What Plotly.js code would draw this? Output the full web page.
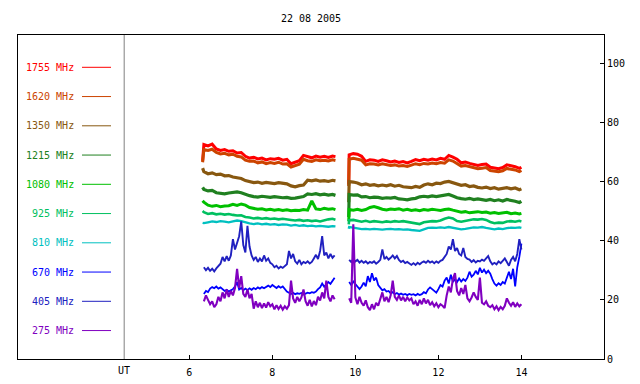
<!DOCTYPE html>
<html><head><meta charset="utf-8">
<script src="https://cdn.plot.ly/plotly-3.0.1.min.js"></script>
<style>html,body{margin:0;padding:0;background:#fff}#chart{width:640px;height:384px}</style>
</head><body><div id="chart"></div>
<script>
const chartTitle = "22 08 2005";
const axisLabel = "UT";
const xTicks = [6, 8, 10, 12, 14];
const yTicks = [0, 20, 40, 60, 80, 100];
const bands = ["1755 MHz","1620 MHz","1350 MHz","1215 MHz","1080 MHz","925 MHz","810 MHz","670 MHz","405 MHz","275 MHz"];
const colors = ["#ff0000","#cc4400","#885810","#208020","#00c000","#00c060","#00c0c0","#0000ff","#2020c0","#8000c0"];

// coarse time samples (UT hours)
const tA = [6.32,6.35,6.45,6.55,6.65,6.75,6.85,6.95,7.05,7.15,7.25,7.35,7.45,7.55,7.65,7.75,7.85,7.95,8.05,8.15,8.25,8.35,8.45,8.55,8.65,8.75,8.85,8.95,9.05,9.15,9.25,9.35,9.45,9.52];
const tB = [9.84,9.85,9.95,10.05,10.15,10.25,10.35,10.45,10.55,10.65,10.75,10.85,10.95,11.05,11.15,11.25,11.35,11.45,11.55,11.65,11.75,11.85,11.95,12.05,12.15,12.25,12.35,12.45,12.55,12.65,12.75,12.85,12.95,13.05,13.15,13.25,13.35,13.45,13.55,13.65,13.75,13.85,13.95,14.0];
// fine time samples for the noisy low bands
const fA = [6.35,6.40,6.45,6.50,6.55,6.60,6.65,6.70,6.75,6.80,6.85,6.90,6.95,7.00,7.05,7.10,7.15,7.20,7.25,7.30,7.35,7.40,7.45,7.50,7.55,7.60,7.65,7.70,7.75,7.80,7.85,7.90,7.95,8.00,8.05,8.10,8.15,8.20,8.25,8.30,8.35,8.40,8.45,8.50,8.55,8.60,8.65,8.70,8.75,8.80,8.85,8.90,8.95,9.00,9.05,9.10,9.15,9.20,9.25,9.30,9.35,9.40,9.45,9.50];
const fB = [9.85,9.90,9.95,10.00,10.05,10.10,10.15,10.20,10.25,10.30,10.35,10.40,10.45,10.50,10.55,10.60,10.65,10.70,10.75,10.80,10.85,10.90,10.95,11.00,11.05,11.10,11.15,11.20,11.25,11.30,11.35,11.40,11.45,11.50,11.55,11.60,11.65,11.70,11.75,11.80,11.85,11.90,11.95,12.00,12.05,12.10,12.15,12.20,12.25,12.30,12.35,12.40,12.45,12.50,12.55,12.60,12.65,12.70,12.75,12.80,12.85,12.90,12.95,13.00,13.05,13.10,13.15,13.20,13.25,13.30,13.35,13.40,13.45,13.50,13.55,13.60,13.65,13.70,13.75,13.80,13.85,13.90,13.95,14.00];
const gapT = 9.7;

const v1755A = [67.0,72.5,72.0,72.6,71.0,70.5,70.8,70.2,70.4,69.6,69.8,68.5,67.9,68.2,67.6,67.9,67.3,67.7,67.5,67.8,67.2,67.5,66.0,66.4,67.0,68.8,68.3,68.0,68.6,68.2,68.5,68.1,68.6,68.4];
const v1755B = [59.0,69.0,69.4,69.2,68.5,66.8,67.3,67.2,66.8,67.3,67.0,66.6,66.9,66.4,66.7,66.3,66.8,67.4,67.0,67.5,67.2,67.6,67.3,67.8,67.5,68.8,68.2,67.5,66.3,66.6,66.1,65.8,65.4,65.7,65.9,64.8,64.5,64.3,64.7,65.6,65.3,65.0,64.4,64.8];
const v1620A = [66.5,70.8,70.5,70.9,69.8,69.3,69.5,69.0,69.2,68.5,68.3,67.2,66.8,66.9,66.3,66.6,66.0,66.4,66.1,66.5,65.9,66.0,64.9,65.3,65.8,67.5,67.0,66.8,67.3,67.0,67.2,66.9,67.3,67.1];
const v1620B = [58.5,67.5,67.8,67.6,67.2,65.6,66.0,65.9,65.6,66.0,65.7,65.4,65.6,65.2,65.4,65.1,65.5,66.0,65.7,66.1,65.9,66.2,66.0,66.4,66.2,67.3,66.9,66.1,65.2,65.4,65.0,64.7,64.3,64.5,64.7,63.7,63.4,63.3,63.6,64.4,64.1,63.9,63.3,63.7];
const v1350A = [64.5,63.3,62.6,62.9,62.3,62.5,61.9,62.0,61.5,61.3,61.0,60.3,59.9,59.6,59.8,59.4,59.7,59.5,59.3,59.6,59.4,59.2,58.5,58.2,58.6,58.8,60.4,60.2,60.5,60.1,60.3,60.0,60.4,60.2];
const v1350B = [53.0,60.0,59.8,59.5,58.9,59.2,58.7,58.9,58.5,58.8,58.5,58.9,58.4,58.7,58.2,58.0,57.9,58.3,58.0,58.8,59.2,58.9,59.4,59.3,59.8,60.0,59.5,59.2,58.7,58.9,58.3,58.5,58.0,57.8,58.1,57.6,57.9,57.4,57.7,57.9,57.5,57.8,57.2,57.5];
const v1215A = [58.0,57.3,56.8,57.0,56.2,56.0,55.8,56.1,56.4,56.5,56.2,55.6,55.2,54.9,54.7,55.0,54.8,54.6,54.9,54.7,54.5,54.6,54.3,54.4,54.7,54.9,55.8,55.6,55.9,55.5,55.7,55.4,55.6,55.3];
const v1215B = [48.0,55.6,55.4,55.5,54.8,54.9,54.5,54.7,54.6,54.3,54.5,54.4,54.6,54.1,54.0,53.8,54.1,54.3,54.8,55.0,54.8,55.1,54.9,55.2,55.5,55.6,55.1,54.5,54.2,54.0,54.3,53.9,54.1,53.8,53.6,53.9,53.5,53.8,53.4,53.9,53.7,53.3,52.9,53.3];
const v1080A = [53.5,53.0,52.0,51.6,51.9,51.5,51.7,51.8,52.3,51.9,52.4,52.0,51.2,51.0,50.6,50.8,50.4,50.6,50.3,50.5,50.2,50.4,50.1,50.3,50.2,50.5,50.3,53.4,50.7,50.5,50.9,50.6,50.8,50.5];
const v1080B = [46.5,50.5,50.3,50.6,50.2,50.5,51.2,51.5,51.1,50.6,50.4,50.7,50.5,50.8,50.3,50.6,50.2,50.4,50.1,50.5,50.3,50.6,50.4,50.2,50.5,50.7,50.3,50.0,49.6,49.8,49.4,49.6,49.8,49.5,49.7,49.3,49.5,49.2,49.4,49.6,49.1,49.3,49.0,49.2];
const v925A = [50.0,49.6,49.0,49.3,48.9,49.1,48.8,49.0,48.7,48.5,48.6,48.0,47.8,47.5,47.7,47.4,47.6,47.3,47.5,47.2,47.4,47.1,47.0,46.8,47.0,46.7,46.9,46.6,46.8,46.5,46.9,47.2,47.4,47.1];
const v925B = [45.5,46.9,47.0,46.6,46.4,46.7,46.3,46.6,46.4,46.2,46.5,46.3,46.6,46.4,46.6,46.4,46.2,45.9,45.6,46.2,46.4,46.6,46.5,46.8,47.4,47.8,47.5,46.6,46.4,46.7,46.8,47.2,47.1,47.3,47.0,46.3,45.9,46.1,46.0,46.5,46.6,46.4,46.7,46.5];
const v810A = [46.0,45.9,46.2,46.5,46.3,46.6,46.4,46.2,46.5,46.8,46.6,46.1,45.8,45.6,45.8,45.5,45.7,45.4,45.6,45.3,45.5,45.4,45.1,45.3,45.0,45.2,44.9,45.1,44.8,45.0,44.9,44.7,44.9,44.8];
const v810B = [44.0,44.6,44.4,44.2,43.9,44.0,43.8,44.0,43.9,43.7,43.9,44.0,43.8,43.9,43.7,43.8,43.6,43.4,43.3,43.8,44.3,44.4,44.3,44.5,44.3,44.6,44.4,44.0,43.8,44.0,44.3,44.5,44.4,44.6,44.3,44.0,43.8,44.1,43.9,44.2,44.4,44.3,44.5,44.3];

const v670A = [22.0,23.0,22.6,23.8,24.3,23.9,24.5,23.8,24.2,23.6,23.0,23.4,22.8,23.2,23.6,24.5,26.0,23.5,24.0,23.2,23.8,23.3,23.9,23.4,24.0,23.6,24.2,23.8,24.3,23.9,24.4,24.8,24.3,25.0,24.5,24.0,24.6,24.1,24.5,23.5,22.8,22.4,22.0,22.4,21.9,22.2,22.0,22.3,21.8,22.1,22.4,22.2,22.6,22.4,22.8,23.6,24.2,25.5,24.4,25.2,26.0,25.4,26.5,27.5];
const v670B = [26.0,25.0,26.2,25.2,24.4,23.6,24.5,25.8,24.6,28.0,26.0,29.0,26.5,27.5,25.0,24.0,23.2,23.6,22.8,23.0,22.2,22.6,21.9,22.3,21.8,22.1,21.7,22.0,21.6,22.0,21.7,21.9,21.5,22.0,21.6,21.9,22.6,22.2,23.5,24.2,23.6,22.8,22.4,23.6,25.0,24.5,26.5,27.5,25.5,28.5,26.0,27.0,26.0,27.2,26.2,27.0,26.4,27.5,29.5,27.8,28.5,29.8,28.6,30.8,29.2,30.2,29.0,29.8,28.8,27.0,25.5,24.8,25.6,25.0,26.0,25.5,27.5,29.5,27.0,30.5,24.5,31.0,34.5,39.0];
const v405A = [31.0,30.0,30.8,29.8,30.5,29.6,30.6,31.5,32.2,34.5,33.0,34.8,33.2,35.0,40.5,37.0,39.0,41.5,46.5,38.5,36.0,45.0,38.0,35.0,33.5,34.5,32.8,34.0,33.0,35.0,33.2,34.0,32.5,32.0,31.0,31.5,30.6,31.2,30.8,31.5,32.0,36.5,34.0,35.5,33.0,32.2,33.5,32.0,32.8,32.4,33.0,32.3,32.8,34.0,35.2,33.8,36.5,41.5,35.0,36.0,34.0,35.5,34.2,35.0];
const v405B = [33.5,32.8,33.8,33.0,33.5,32.6,33.2,32.5,33.0,32.3,32.8,32.5,33.0,32.2,32.8,33.5,37.0,33.8,34.5,33.6,34.2,35.0,34.0,34.8,33.5,32.8,33.2,32.4,32.8,32.2,31.8,32.4,31.8,32.5,32.0,32.6,33.0,32.5,33.2,32.6,33.0,32.4,33.0,32.5,33.2,33.5,34.5,35.5,38.0,37.0,40.5,36.5,37.5,35.5,35.0,37.5,34.5,33.8,33.6,32.8,33.4,32.6,33.2,33.0,33.6,33.2,34.0,34.8,33.0,32.0,32.5,32.0,33.0,32.4,33.2,34.0,32.8,31.5,33.5,34.5,33.0,35.5,40.5,37.0];
const v275A = [19.5,21.5,20.0,18.5,19.5,17.5,18.5,21.0,19.5,22.5,20.5,23.5,21.0,23.0,21.5,24.0,30.5,24.0,28.0,22.0,21.0,23.5,20.5,22.0,17.0,19.5,17.5,19.0,17.2,18.8,17.4,19.2,17.8,18.5,16.8,18.2,16.9,18.0,16.7,17.8,17.0,18.2,26.5,20.5,19.0,21.0,19.5,20.8,23.5,19.5,18.0,20.0,17.8,19.6,18.2,21.0,19.8,22.5,20.5,26.5,21.0,19.5,21.5,20.2];
const v275B = [20.5,19.0,45.5,20.8,18.5,21.0,19.0,18.0,19.8,17.5,16.5,18.5,16.8,19.0,18.0,20.5,22.5,19.5,21.0,19.2,21.5,26.5,21.0,20.0,21.5,19.8,21.0,19.5,20.8,19.8,20.5,18.5,19.5,18.0,20.0,18.5,20.5,18.8,20.0,18.2,19.2,17.8,18.8,17.5,18.5,18.0,17.2,21.5,24.5,22.5,27.0,29.0,23.0,21.5,24.0,22.0,25.0,20.5,19.5,20.8,22.5,21.0,20.0,27.5,19.0,18.5,19.5,18.0,17.5,18.2,16.8,17.8,16.5,17.6,16.8,18.0,20.5,19.0,18.0,19.2,17.6,18.8,17.8,18.5];

const seriesA = [v1755A,v1620A,v1350A,v1215A,v1080A,v925A,v810A,v670A,v405A,v275A];
const seriesB = [v1755B,v1620B,v1350B,v1215B,v1080B,v925B,v810B,v670B,v405B,v275B];
const widths = [3.0,3.0,3.2,3.2,3.0,2.6,2.3,1.8,1.9,2.1];

const MONO = "DejaVu Sans Mono";
const traces = [];
for (let i = 0; i < bands.length; i++) {
  const fine = i >= 7;
  const xa = fine ? fA : tA, xb = fine ? fB : tB;
  traces.push({
    type: "scatter", mode: "lines", name: bands[i], showlegend: false,
    x: xa.concat([gapT], xb),
    y: seriesA[i].concat([null], seriesB[i]),
    connectgaps: false,
    line: {color: colors[i], width: widths[i]}
  });
}

// layout geometry (pixels of the 640x384 frame)
const L = 18, R = 604, T = 35, B = 359;
const W = R - L, H = B - T;
const px = x => (x - L) / W;
const py = y => (B - y) / H;

const annotations = [];
const shapes = [];
for (let i = 0; i < bands.length; i++) {
  const y = 67.3 + i * 29.25;
  annotations.push({xref: "paper", yref: "paper", x: px(76), y: py(y), xanchor: "right", yanchor: "middle",
    text: bands[i], showarrow: false, font: {family: MONO, size: 10, color: colors[i]}});
  shapes.push({type: "line", xref: "paper", yref: "paper", x0: px(82), x1: px(111), y0: py(y), y1: py(y),
    line: {color: colors[i], width: 1}});
}
shapes.push({type: "line", xref: "x", yref: "paper", x0: 4.43, x1: 4.43, y0: 0, y1: 1, line: {color: "#808080", width: 1}});
annotations.push({xref: "x", yref: "paper", x: 4.43, y: py(370.5), xanchor: "center", yanchor: "middle",
  text: axisLabel, showarrow: false, font: {family: MONO, size: 10, color: "#000"}});

const layout = {
  width: 640, height: 384,
  margin: {l: L, r: 640 - R, t: T, b: 384 - B, pad: 0},
  paper_bgcolor: "#fff", plot_bgcolor: "#fff",
  title: {text: chartTitle, x: 0.5, xref: "paper", y: 1 - 18/384, yref: "container", yanchor: "middle",
    font: {family: MONO, size: 10, color: "#000"}},
  xaxis: {range: [1.872, 15.99], tickvals: xTicks, ticktext: xTicks.map(String), ticks: "inside", ticklen: 4,
    tickcolor: "#000", showline: true, linecolor: "#000", linewidth: 1, mirror: true, showgrid: false, zeroline: false,
    tickfont: {family: MONO, size: 10, color: "#000"}, ticklabelstandoff: 4},
  yaxis: {range: [0, 109.5], side: "right", tickvals: yTicks, ticktext: yTicks.map(String), ticks: "inside", ticklen: 4,
    tickcolor: "#000", showline: true, linecolor: "#000", linewidth: 1, mirror: true, showgrid: false, zeroline: false,
    tickfont: {family: MONO, size: 10, color: "#000"}},
  annotations: annotations,
  shapes: shapes,
  showlegend: false
};

Plotly.newPlot("chart", traces, layout, {displayModeBar: false, staticPlot: true});
</script>
</body></html>
